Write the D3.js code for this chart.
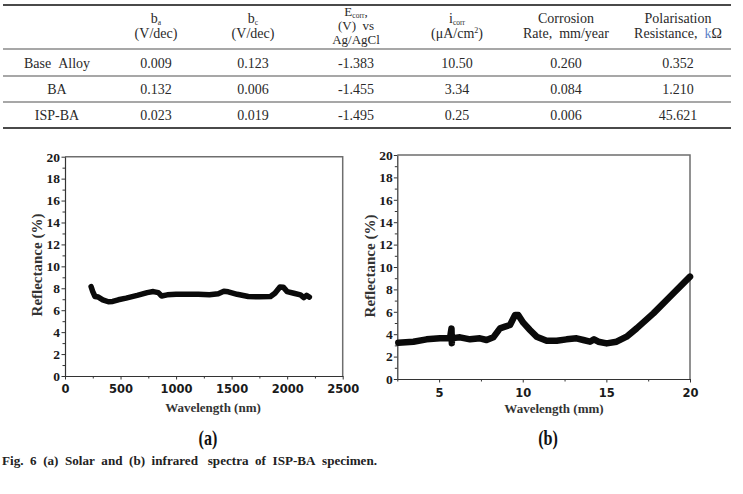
<!DOCTYPE html>
<html>
<head>
<meta charset="utf-8">
<script src="https://cdn.jsdelivr.net/npm/d3@7"></script>
<style>
  body { margin: 0; background: #fff; }
  svg { display: block; }
  text { font-family: "Liberation Serif", "Times New Roman", serif; }
</style>
</head>
<body>
<script>
// ---- data ----
var tableRowNames = ["Base\u00a0\u00a0Alloy", "BA", "ISP-BA"];
var tableValues = [
  ["0.009", "0.123", "-1.383", "10.50", "0.260", "0.352"],
  ["0.132", "0.006", "-1.455", "3.34", "0.084", "1.210"],
  ["0.023", "0.019", "-1.495", "0.25", "0.006", "45.621"]
];
// header cells: list of lines, each line a list of [text, shift, colour]
var tableHeader = [
  [[["b", ""], ["a", "sub"]], [["(V/dec)", ""]]],
  [[["b", ""], ["c", "sub"]], [["(V/dec)", ""]]],
  [[["E", ""], ["corr", "sub"], [",", ""]], [["(V)\u00a0\u00a0vs", ""]], [["Ag/AgCl", ""]]],
  [[["i", ""], ["corr", "sub"]], [["(\u03bcA/cm", ""], ["2", "sup"], [")", ""]]],
  [[["Corrosion", ""]], [["Rate,\u00a0\u00a0mm/year", ""]]],
  [[["Polarisation", ""]], [["Resistance,\u00a0\u00a0", ""], ["k", "", "#5b82c8"], ["\u03a9", ""]]]
];

var reflTicks = [0, 2, 4, 6, 8, 10, 12, 14, 16, 18, 20];
var reflMinor = [1, 3, 5, 7, 9, 11, 13, 15, 17, 19];

var solarTicks = [0, 500, 1000, 1500, 2000, 2500];
var solarMinor = [250, 750, 1250, 1750, 2250];
var solarWavelength = [235, 250, 270, 300, 340, 390, 430, 480, 550, 650, 740, 795, 840, 870, 920, 1000, 1100, 1200, 1300, 1380, 1430, 1470, 1550, 1650, 1750, 1850, 1890, 1935, 1965, 2000, 2060, 2120, 2150, 2175, 2200];
var solarReflectance = [8.15, 7.7, 7.25, 7.2, 6.95, 6.77, 6.8, 6.95, 7.1, 7.35, 7.6, 7.7, 7.6, 7.3, 7.4, 7.45, 7.45, 7.45, 7.42, 7.5, 7.72, 7.68, 7.45, 7.25, 7.22, 7.25, 7.55, 8.12, 8.1, 7.7, 7.55, 7.4, 7.15, 7.35, 7.2];

var irTicks = [5, 10, 15, 20];
var irMinor = [2.5, 7.5, 12.5, 17.5];
var irWavelength = [2.56, 3.46, 4.25, 5.05, 5.65, 5.74, 5.76, 5.78, 5.82, 6.25, 6.85, 7.44, 7.84, 8.24, 8.64, 8.94, 9.24, 9.54, 9.73, 10.03, 10.43, 10.83, 11.43, 12.03, 12.62, 13.22, 13.62, 14.02, 14.26, 14.52, 15.02, 15.61, 16.21, 16.81, 17.81, 18.8, 20];
var irReflectance = [3.24, 3.33, 3.54, 3.63, 3.63, 4.5, 3.2, 3.8, 3.65, 3.72, 3.54, 3.63, 3.48, 3.72, 4.52, 4.67, 4.82, 5.71, 5.71, 5.03, 4.38, 3.78, 3.42, 3.42, 3.54, 3.63, 3.48, 3.33, 3.54, 3.33, 3.18, 3.33, 3.78, 4.52, 5.86, 7.35, 9.14];

// ---- page ----
var svg = d3.select("body").append("svg")
    .attr("width", 743)
    .attr("height", 494);

var serif = "'Liberation Serif', 'Times New Roman', serif";

// ---- table ----
var colX = [57, 156, 253, 356, 457, 566, 678];
var rowY = [67.5, 93.5, 119.5];
var rules = [
  {y: 5, w: 2, c: "#4a4a4a"},
  {y: 49, w: 1.5, c: "#8a8a8a"},
  {y: 76, w: 1.5, c: "#8a8a8a"},
  {y: 102, w: 1.5, c: "#8a8a8a"},
  {y: 128, w: 2, c: "#4a4a4a"}
];
rules.forEach(function(r){
  svg.append("line")
      .attr("x1", 3).attr("x2", 731)
      .attr("y1", r.y).attr("y2", r.y)
      .attr("stroke", r.c)
      .attr("stroke-width", r.w);
});

var tbl = svg.append("g")
    .style("font-family", serif)
    .style("font-size", "14px")
    .attr("fill", "#2a2a2a")
    .attr("text-anchor", "middle");

tableHeader.forEach(function(cell, ci){
  var base = cell.length == 3 ? [16, 30, 44] : [23, 37.5];
  var fs = cell.length == 3 ? "13px" : "14px";
  cell.forEach(function(line, li){
    var t = tbl.append("text")
        .attr("x", colX[ci+1])
        .attr("y", base[li])
        .style("font-size", fs);
    var shift = 0;
    line.forEach(function(p){
      var want = 0;
      var sp = t.append("tspan").text(p[0]);
      if(p[1] == "sub"){
        sp.style("font-size", "7.5px");
        want = 1.5;
      } else if(p[1] == "sup"){
        sp.style("font-size", "8px");
        want = -5;
      }
      sp.attr("dy", want - shift);
      shift = want;
      if(p[2]) sp.attr("fill", p[2]);
    });
  });
});

tableRowNames.forEach(function(name, ri){
  tbl.append("text")
      .attr("x", colX[0])
      .attr("y", rowY[ri])
      .text(name);
  tableValues[ri].forEach(function(v, ci){
    tbl.append("text")
        .attr("x", colX[ci+1])
        .attr("y", rowY[ri])
        .text(v);
  });
});

// ---- panels ----
function drawPanel(cfg){
  var x = d3.scaleLinear().domain(cfg.xDomain).range([cfg.left, cfg.right]);
  var y = d3.scaleLinear().domain([0, 20]).range([cfg.bottom, cfg.top]);

  // top and right frame
  svg.append("path")
      .attr("d", "M" + cfg.left + "," + cfg.top + "H" + cfg.right + "V" + cfg.bottom)
      .attr("fill", "none")
      .attr("stroke", "#6e6e6e")
      .attr("stroke-width", 1.5);

  // minor ticks
  svg.append("g")
      .attr("transform", "translate(" + cfg.left + ",0)")
      .call(d3.axisLeft(y).tickValues(reflMinor).tickSize(2.5).tickFormat(""))
      .call(function(g){ g.select(".domain").remove(); });
  svg.append("g")
      .attr("transform", "translate(0," + cfg.bottom + ")")
      .call(d3.axisBottom(x).tickValues(cfg.xMinor).tickSize(2.5).tickFormat(""))
      .call(function(g){ g.select(".domain").remove(); });

  var ya = svg.append("g")
      .attr("transform", "translate(" + cfg.left + ",0)")
      .call(d3.axisLeft(y).tickValues(reflTicks).tickSize(3.5).tickSizeOuter(0)
        .tickPadding(cfg.yPad).tickFormat(d3.format("d")));
  ya.selectAll("text")
      .style("font-family", serif)
      .style("font-weight", "bold")
      .style("font-size", "13.5px")
      .attr("fill", "#1a1a1a");

  var xa = svg.append("g")
      .attr("transform", "translate(0," + cfg.bottom + ")")
      .call(d3.axisBottom(x).tickValues(cfg.xTicks).tickSize(3.5).tickSizeOuter(0)
        .tickPadding(cfg.xPad).tickFormat(d3.format("d")));
  xa.selectAll("text")
      .style("font-family", "'DejaVu Sans', Verdana, sans-serif")
      .style("font-weight", "bold")
      .style("font-size", "11.5px")
      .attr("fill", "#1a1a1a");

  svg.selectAll(".domain").attr("stroke", "#333").attr("stroke-width", 1.2);
  svg.selectAll(".tick line").attr("stroke", "#333");

  // spectrum
  var line = d3.line()
      .x(function(d){ return x(d[0]); })
      .y(function(d){ return y(d[1]); });
  svg.append("path")
      .datum(d3.zip(cfg.xs, cfg.ys))
      .attr("d", line)
      .attr("fill", "none")
      .attr("stroke", "#0a0a0a")
      .attr("stroke-width", cfg.lw)
      .attr("stroke-linejoin", "round")
      .attr("stroke-linecap", "round");

  // axis titles
  svg.append("text")
      .attr("text-anchor", "middle")
      .style("font-family", serif)
      .style("font-weight", "bold")
      .style("font-size", "13px")
      .attr("fill", "#333")
      .attr("x", cfg.xTitleX)
      .attr("y", cfg.xTitleY)
      .text(cfg.xTitle);

  svg.append("text")
      .attr("text-anchor", "middle")
      .style("font-family", serif)
      .style("font-weight", "bold")
      .style("font-size", "15px")
      .attr("fill", "#333")
      .attr("transform", "translate(" + cfg.yTitleX + "," + cfg.yTitleY + ") rotate(-90)")
      .text("Reflectance (%)");

  svg.append("text")
      .attr("text-anchor", "middle")
      .style("font-family", serif)
      .style("font-weight", "bold")
      .style("font-size", "19px")
      .attr("fill", "#111")
      .attr("transform", "translate(" + cfg.tagX + ",445) scale(0.85,1.05)")
      .text(cfg.tag);
}

drawPanel({
  left: 65, right: 342.7, top: 156.7, bottom: 376,
  xDomain: [0, 2500], xTicks: solarTicks, xMinor: solarMinor,
  xs: solarWavelength, ys: solarReflectance, lw: 5.5,
  yPad: 1.5, xPad: 5,
  xTitle: "Wavelength (nm)", xTitleX: 213, xTitleY: 412,
  yTitleX: 42, yTitleY: 265,
  tag: "(a)", tagX: 208
});

drawPanel({
  left: 397.3, right: 690, top: 155, bottom: 379,
  xDomain: [2.5, 20], xTicks: irTicks, xMinor: irMinor,
  xs: irWavelength, ys: irReflectance, lw: 6.5,
  yPad: 1, xPad: 6,
  xTitle: "Wavelength (mm)", xTitleX: 554, xTitleY: 413,
  yTitleX: 374.5, yTitleY: 266,
  tag: "(b)", tagX: 548
});

// figure caption
svg.append("text")
    .attr("x", 2)
    .attr("y", 465)
    .style("font-family", serif)
    .style("font-weight", "bold")
    .style("font-size", "12px")
    .attr("fill", "#222")
    .attr("textLength", 375)
    .attr("lengthAdjust", "spacingAndGlyphs")
    .text("Fig.\u00a0\u00a06\u00a0\u00a0(a)\u00a0\u00a0Solar\u00a0\u00a0and\u00a0\u00a0(b)\u00a0\u00a0infrared\u00a0\u00a0\u00a0spectra\u00a0\u00a0of\u00a0\u00a0ISP-BA\u00a0\u00a0specimen.");
</script>
</body>
</html>
